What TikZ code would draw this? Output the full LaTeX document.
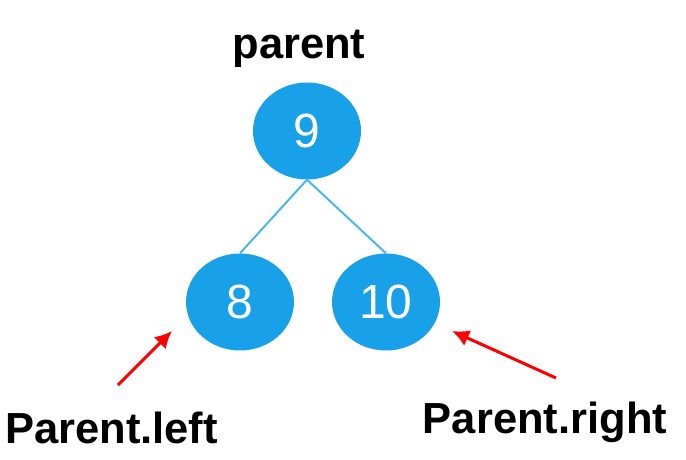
\documentclass[tikz,border=0pt]{standalone}
\usepackage{fontspec}
\setmainfont{Liberation Sans}
\usetikzlibrary{shapes.geometric,arrows.meta}
\definecolor{nodeblue}{RGB}{24,160,232}
\definecolor{edgeblue}{RGB}{72,184,234}
\definecolor{arrowred}{RGB}{255,0,0}
\tikzset{
	treenode/.style={ellipse, fill=nodeblue, draw=none, minimum width=108pt, minimum height=97pt, inner sep=0pt, text=white, font=\fontsize{48pt}{50pt}\selectfont},
	treeedge/.style={draw=edgeblue, line width=2pt},
	label text/.style={anchor=base, inner sep=0pt, font=\fontsize{43.5pt}{46pt}\selectfont\bfseries},
	pointer/.style={draw=arrowred, line width=3pt, -{Latex[length=17pt,width=17pt]}}
}

\begin{document}
\begin{tikzpicture}[x=1pt, y=-1pt]
			%%%%% START %%%%%
			\useasboundingbox (0, 0) rectangle (686, 460);
			
			\node[treenode] (n9) at (307, 131) {9};
			\node[treenode] (n8) at (240, 302) {8};
			\node[treenode] (n10) at (386, 302) {10};
			
			\draw[treeedge] (n9.south) -- (n8.north);
			\draw[treeedge] (n9.south) -- (n10.north);
			
			\node[label text] (parent) at (299, 59) {parent};
			\node[label text] (pleft) at (111.5, 443) {Parent.left};
			\node[label text] (pright) at (545, 433) {Parent.right};
			
			\coordinate (lefttail) at (118, 385);
			\coordinate (lefttip) at (172, 331);
			\coordinate (righttail) at (556, 378);
			\coordinate (righttip) at (452, 331);
			
			\draw[pointer] (lefttail) -- (lefttip);
			\draw[pointer] (righttail) -- (righttip);
			%%%%% END %%%%%
		\end{tikzpicture}
\end{document}
